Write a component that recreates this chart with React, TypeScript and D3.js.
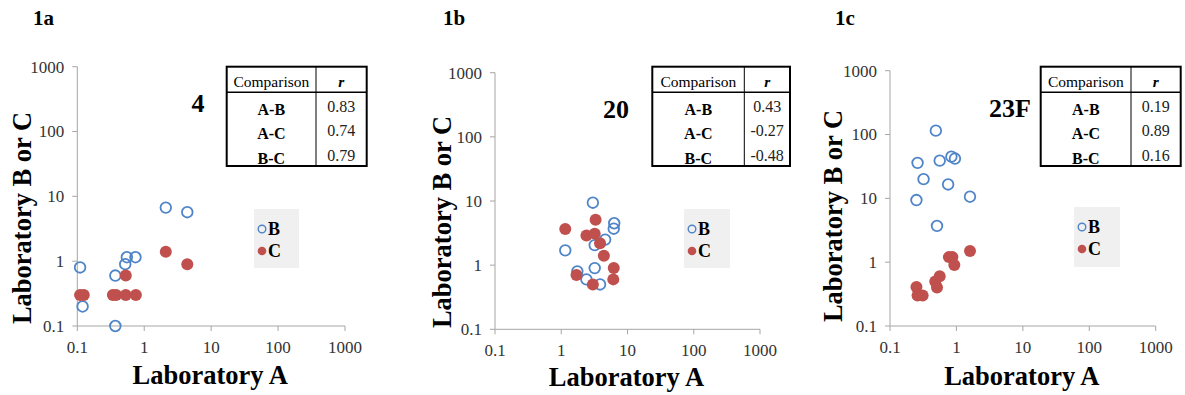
import React from "react";
import * as d3 from "d3";

// ---------- data ----------
const tickValues = [0.1, 1, 10, 100, 1000];
const tickLabels = ["0.1", "1", "10", "100", "1000"];

const panelIds = ["1a", "1b", "1c"];
const serotypes = ["4", "20", "23F"];
const comparisons = ["A-B", "A-C", "B-C"];
const rValuesA = ["0.83", "0.74", "0.79"];
const rValuesB = ["0.43", "-0.27", "-0.48"];
const rValuesC = ["0.19", "0.89", "0.16"];

// [Lab A, Lab B]
const panelA_B: [number, number][] = [
  [0.11, 0.8], [0.12, 0.2], [0.37, 0.1], [0.37, 0.6], [0.52, 0.9],
  [0.55, 1.15], [0.74, 1.15], [2.1, 6.7], [4.4, 5.7],
];
// [Lab A, Lab C]
const panelA_C: [number, number][] = [
  [0.11, 0.3], [0.125, 0.3], [0.34, 0.3], [0.38, 0.3], [0.53, 0.3],
  [0.75, 0.3], [0.53, 0.6], [2.1, 1.4], [4.4, 0.9],
];
const panelB_B: [number, number][] = [
  [3.0, 9.4], [6.3, 4.5], [6.2, 3.7], [4.6, 2.5], [3.2, 2.05],
  [1.15, 1.7], [1.75, 0.8], [3.2, 0.9], [2.4, 0.6], [3.85, 0.5],
];
const panelB_C: [number, number][] = [
  [1.15, 3.65], [3.3, 5.1], [2.4, 2.9], [3.2, 3.1], [3.85, 2.2],
  [4.4, 1.4], [6.2, 0.9], [6.1, 0.6], [1.7, 0.7], [3.0, 0.5],
];
const panelC_B: [number, number][] = [
  [0.49, 115], [0.26, 36], [0.56, 39], [0.84, 45], [0.95, 42],
  [0.32, 20], [0.75, 16.5], [0.25, 9.4], [1.6, 10.6], [0.51, 3.7],
];
const panelC_C: [number, number][] = [
  [1.6, 1.5], [0.77, 1.2], [0.87, 1.2], [0.93, 0.9], [0.56, 0.6],
  [0.48, 0.5], [0.51, 0.4], [0.25, 0.41], [0.26, 0.3], [0.31, 0.3],
];

// ---------- layout ----------
const BLUE = "#4f85c8";
const RED = "#c0504d";
const SERIF = "'Liberation Serif', 'Times New Roman', serif";

interface Layout {
  x0: number; x1: number; y0: number; y1: number;
  idX: number; yTitleX: number; yTitleY: number; xTitleY: number;
  titleX: number; titleY: number;
  tbl: { x0: number; x1: number; div: number; y0: number; y1: number; hdr: number };
  leg: { x: number; y: number; w: number; h: number };
}

const layouts: Layout[] = [
  {
    x0: 77.3, x1: 345, y0: 326, y1: 66.7, idX: 33, yTitleX: 22, yTitleY: 218, xTitleY: 384,
    titleX: 198, titleY: 112,
    tbl: { x0: 226.7, x1: 366.7, div: 316, y0: 66.7, y1: 166, hdr: 92.3 },
    leg: { x: 254, y: 209, w: 45, h: 59 },
  },
  {
    x0: 495, x1: 760, y0: 329.3, y1: 72.7, idX: 443, yTitleX: 442, yTitleY: 222, xTitleY: 386,
    titleX: 616, titleY: 118,
    tbl: { x0: 652.3, x1: 790, div: 744.3, y0: 66.7, y1: 166, hdr: 92.3 },
    leg: { x: 684, y: 209, w: 46, h: 59 },
  },
  {
    x0: 890, x1: 1155.7, y0: 326, y1: 70.7, idX: 835, yTitleX: 833, yTitleY: 216, xTitleY: 385,
    titleX: 1010, titleY: 117,
    tbl: { x0: 1040.7, x1: 1180.7, div: 1131, y0: 66.7, y1: 166, hdr: 92.3 },
    leg: { x: 1074, y: 207, w: 46, h: 60 },
  },
];

const panelB = [panelA_B, panelB_B, panelC_B];
const panelC = [panelA_C, panelB_C, panelC_C];
const panelR = [rValuesA, rValuesB, rValuesC];

function Panel({ i }: { i: number }) {
  const L = layouts[i];
  const x = d3.scaleLog().domain([0.1, 1000]).range([L.x0, L.x1]);
  const y = d3.scaleLog().domain([0.1, 1000]).range([L.y0, L.y1]);
  const axisColor = "#a6a6a6";
  const t = L.tbl;
  const rowH = (t.y1 - t.hdr) / 3;
  return (
    <g>
      <text x={L.idX} y={25} fontFamily={SERIF} fontWeight="bold" fontSize={21}>{panelIds[i]}</text>
      {/* axes */}
      <line x1={L.x0} x2={L.x1} y1={L.y0} y2={L.y0} stroke={axisColor} strokeWidth={1} />
      <line x1={L.x0} x2={L.x0} y1={L.y0} y2={L.y1} stroke={axisColor} strokeWidth={1} />
      {tickValues.map((v, k) => (
        <g key={"xt" + k}>
          <line x1={x(v)} x2={x(v)} y1={L.y0} y2={L.y0 + 5} stroke={axisColor} />
          <text x={x(v)} y={L.y0 + 27} textAnchor="middle" fontFamily={SERIF} fontSize={17} fill="#333">{tickLabels[k]}</text>
        </g>
      ))}
      {tickValues.map((v, k) => (
        <g key={"yt" + k}>
          <line x1={L.x0 - 5} x2={L.x0} y1={y(v)} y2={y(v)} stroke={axisColor} />
          <text x={L.x0 - 13} y={y(v)} dy="0.35em" textAnchor="end" fontFamily={SERIF} fontSize={17} fill="#333">{tickLabels[k]}</text>
        </g>
      ))}
      <text x={(L.x0 + L.x1) / 2 - 1} y={L.xTitleY} textAnchor="middle" fontFamily={SERIF} fontWeight="bold" fontSize={26.5}>Laboratory A</text>
      <text transform={`translate(${L.yTitleX + 9},${L.yTitleY}) rotate(-90)`} textAnchor="middle" fontFamily={SERIF} fontWeight="bold" fontSize={26.5}>Laboratory B or C</text>
      {/* serotype title */}
      <text x={L.titleX} y={L.titleY} textAnchor="middle" fontFamily={SERIF} fontWeight="bold" fontSize={26}>{serotypes[i]}</text>
      {/* points */}
      {panelB[i].map((d, k) => (
        <circle key={"b" + k} cx={x(d[0])} cy={y(d[1])} r={5.3} fill="none" stroke={BLUE} strokeWidth={1.8} />
      ))}
      {panelC[i].map((d, k) => (
        <circle key={"c" + k} cx={x(d[0])} cy={y(d[1])} r={6} fill={RED} />
      ))}
      {/* legend */}
      <rect x={L.leg.x} y={L.leg.y} width={L.leg.w} height={L.leg.h} fill="#f0f0f0" />
      <circle cx={L.leg.x + 8} cy={L.leg.y + 20} r={3.8} fill="none" stroke={BLUE} strokeWidth={1.4} />
      <text x={L.leg.x + 14} y={L.leg.y + 26} fontFamily={SERIF} fontWeight="bold" fontSize={18}>B</text>
      <circle cx={L.leg.x + 8} cy={L.leg.y + 42} r={4.3} fill={RED} />
      <text x={L.leg.x + 14} y={L.leg.y + 48} fontFamily={SERIF} fontWeight="bold" fontSize={18}>C</text>
      {/* table */}
      <rect x={t.x0} y={t.y0} width={t.x1 - t.x0} height={t.y1 - t.y0} fill="#fff" stroke="#000" strokeWidth={2} />
      <line x1={t.div} x2={t.div} y1={t.y0} y2={t.y1} stroke="#000" strokeWidth={1} />
      <line x1={t.x0} x2={t.x1} y1={t.hdr} y2={t.hdr} stroke="#000" strokeWidth={1.5} />
      <text x={(t.x0 + t.div) / 2} y={t.hdr - 5} textAnchor="middle" fontFamily={SERIF} fontSize={15.5}>Comparison</text>
      <text x={(t.div + t.x1) / 2} y={t.hdr - 5} textAnchor="middle" fontFamily={SERIF} fontSize={15.5} fontWeight="bold" fontStyle="italic">r</text>
      {comparisons.map((c, k) => (
        <g key={"row" + k}>
          <text x={(t.x0 + t.div) / 2} y={t.hdr + rowH * (k + 1) - 2} textAnchor="middle" fontFamily={SERIF} fontSize={16} fontWeight="bold">{c}</text>
          <text x={(t.div + t.x1) / 2} y={t.hdr + rowH * (k + 1) - 5} textAnchor="middle" fontFamily={SERIF} fontSize={16} fill="#222">{panelR[i][k]}</text>
        </g>
      ))}
    </g>
  );
}

export default function App() {
  return (
    <svg width={1185} height={395} style={{ position: "absolute", left: 0, top: 0, background: "#fff" }}>
      <rect width={1185} height={395} fill="#fff" />
      {[0, 1, 2].map((i) => (
        <Panel key={i} i={i} />
      ))}
    </svg>
  );
}
